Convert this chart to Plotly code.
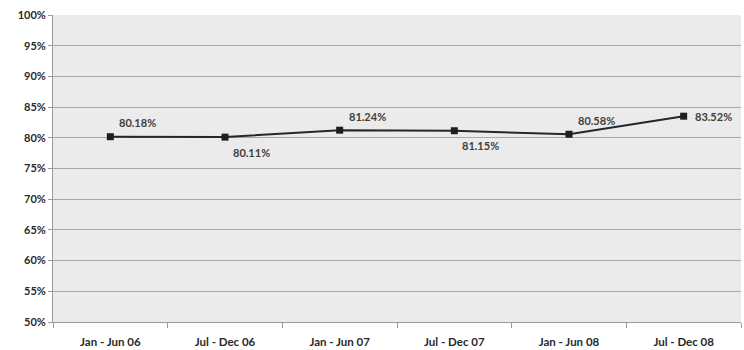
import plotly.graph_objects as go

periods = ["Jan - Jun 06", "Jul - Dec 06", "Jan - Jun 07", "Jul - Dec 07", "Jan - Jun 08", "Jul - Dec 08"]
rates = [80.18, 80.11, 81.24, 81.15, 80.58, 83.52]
y_ticks = [50, 55, 60, 65, 70, 75, 80, 85, 90, 95, 100]

# label placement around each marker: "above", "below" or "right"
label_sides = ["above", "below", "above", "below", "above", "right"]
side_offsets = {"above": (7, 14), "below": (6, -15), "right": (9, 0)}

font_family = "Lato, 'Open Sans', sans-serif"

fig = go.Figure()
fig.add_trace(go.Scatter(
    x=periods,
    y=rates,
    mode="lines+markers",
    line=dict(color="#262626", width=2),
    marker=dict(symbol="square", size=7, color="#1e1e1e"),
    cliponaxis=False,
    showlegend=False,
))

for p, v, side in zip(periods, rates, label_sides):
    dx, dy = side_offsets[side]
    fig.add_annotation(
        x=p, y=v, text=f"{v:.2f}%",
        showarrow=False,
        xanchor="left", yanchor="middle",
        xshift=dx, yshift=dy,
        font=dict(family=font_family, size=11, color="#404040", weight="bold"),
    )

fig.update_layout(
    width=744,
    height=350,
    margin=dict(l=53, r=3, t=15, b=28),
    paper_bgcolor="white",
    plot_bgcolor="#ebebeb",
    font=dict(family=font_family, size=11, color="#3a3a3a"),
)

fig.update_xaxes(
    type="category",
    range=[-0.5, 5.5],
    showgrid=False,
    showline=True,
    linecolor="#9a9a9a",
    linewidth=1,
    ticks="outside",
    tickson="boundaries",
    ticklen=5,
    tickcolor="#9a9a9a",
    tickfont=dict(family=font_family, size=11.5, color="#2a2a2a", weight="bold"),
    ticklabelstandoff=9,
)

fig.update_yaxes(
    range=[50, 100],
    tickvals=y_ticks,
    ticktext=[f"{t}%" for t in y_ticks],
    showgrid=True,
    gridcolor="#a8a8a8",
    gridwidth=1,
    showline=True,
    linecolor="#9a9a9a",
    linewidth=1,
    ticks="outside",
    ticklen=4,
    tickcolor="#9a9a9a",
    tickfont=dict(family=font_family, size=11, color="#2a2a2a", weight="bold"),
    zeroline=False,
)

fig.write_html("out.html")
